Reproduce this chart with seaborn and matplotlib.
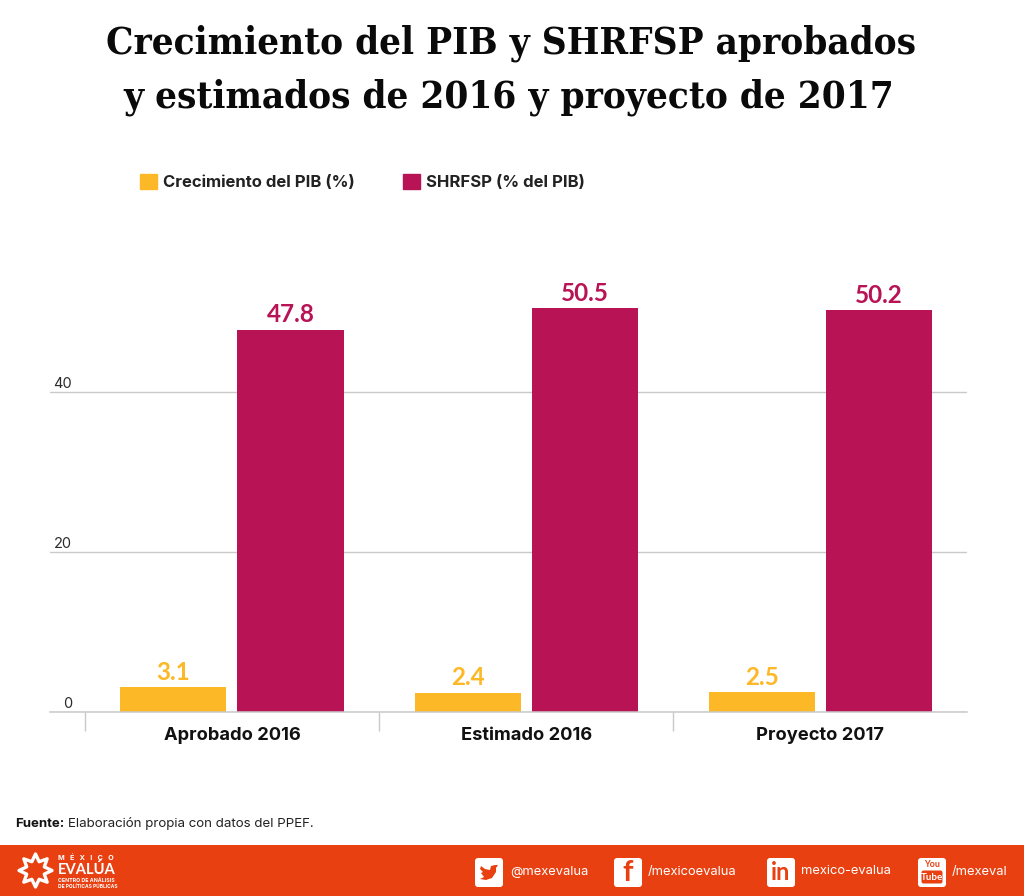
import numpy as np
import pandas as pd
import seaborn as sns
import matplotlib.pyplot as plt
from matplotlib.patches import FancyBboxPatch, Polygon, Rectangle
from matplotlib.ticker import FixedLocator
from matplotlib.transforms import ScaledTranslation

categories = ['Aprobado 2016', 'Estimado 2016', 'Proyecto 2017']
pib = [3.1, 2.4, 2.5]
shrfsp = [47.8, 50.5, 50.2]
series_names = ['Crecimiento del PIB (%)', 'SHRFSP (% del PIB)']
y_ticks = [0, 20, 40]
socials = ['@mexevalua', '/mexicoevalua', 'mexico-evalua', '/mexeval']

YELLOW = '#FDB827'
CRIMSON = '#B81355'
ORANGE = '#E84011'
GRID = '#C9C9C9'

sns.set_theme(style='white')
plt.rcParams['font.family'] = ['Inter', 'DejaVu Sans']

df = pd.DataFrame({
    'cat': categories * 2,
    'serie': [series_names[0]] * 3 + [series_names[1]] * 3,
    'valor': pib + shrfsp,
})

W, H = 1024, 896
fig = plt.figure(figsize=(W / 100, H / 100), dpi=100, facecolor='white')


def px_axes(left, top, right, bottom):
    return fig.add_axes([left / W, 1 - bottom / H, (right - left) / W, (bottom - top) / H])


ax = px_axes(50, 280, 967, 712)
sns.barplot(data=df, x='cat', y='valor', hue='serie', order=categories,
            palette=[YELLOW, CRIMSON], width=0.796, gap=0.094, saturation=1,
            linewidth=0, legend=False, ax=ax)
ax.set_xlim(-0.6185, 2.4985)
ax.set_ylim(0, 54)
ax.set_xlabel('')
ax.set_ylabel('')
sns.despine(ax=ax, left=True, top=True, right=True)
ax.spines['bottom'].set_color(GRID)
ax.spines['bottom'].set_linewidth(1.1)

# grid lines behind bars, labels sit on top of them
ax.set_axisbelow(True)
ax.set_yticks(y_ticks)
ax.yaxis.grid(True, color=GRID, lw=1)
ax.tick_params(axis='y', length=0, pad=-16, labelsize=10.5, labelcolor='#2b2b2b')
offset = ScaledTranslation(0, 1 / 72, fig.dpi_scale_trans)
for lab in ax.get_yticklabels():
    lab.set_ha('right')
    lab.set_va('bottom')
    lab.set_transform(lab.get_transform() + offset)

# category separators hanging from the baseline
ax.xaxis.set_minor_locator(FixedLocator([-0.5, 0.5, 1.5, 2.5]))
ax.tick_params(axis='x', which='minor', bottom=True, length=14, width=1, color=GRID)
ax.tick_params(axis='x', which='major', bottom=False, pad=5, labelsize=13.2, labelcolor='#111111')
for lab in ax.get_xticklabels():
    lab.set_fontweight('bold')

for cont, color in zip(ax.containers, [YELLOW, CRIMSON]):
    ax.bar_label(cont, fmt='%.1f', padding=2.5, color=color, fontsize=17.5, fontweight='bold',
                 family=['Lato', 'DejaVu Sans'])

handles = [Rectangle((0, 0), 1, 1, color=YELLOW), Rectangle((0, 0), 1, 1, color=CRIMSON)]
fig.legend(handles, series_names, loc='center left', bbox_to_anchor=(125 / W, 1 - 182 / H),
           ncol=2, frameon=False, handlelength=1.02, handleheight=1.02, handletextpad=0.36,
           columnspacing=2.9, prop={'weight': 'bold', 'size': 12}, labelcolor='#222222')

title_font = dict(family='DejaVu Serif', stretch='condensed', fontweight='bold', fontsize=27.6,
                  color='#0a0a0a', ha='center', va='center')
fig.text(511 / W, 1 - 43 / H, 'Crecimiento del PIB y SHRFSP aprobados', **title_font)
fig.text(509 / W, 1 - 97 / H, 'y estimados de 2016 y proyecto de 2017', **title_font)

fig.text(15 / W, 1 - 824 / H, 'Fuente:', ha='left', va='center', fontsize=9.5, fontweight='bold', color='#111111')
fig.text(68 / W, 1 - 824 / H, 'Elaboración propia con datos del PPEF.', ha='left', va='center',
         fontsize=9.6, color='#222222')

# footer band in pixel coordinates
foot = fig.add_axes([0, 0, 1, 1], facecolor='none', zorder=5)
foot.set_xlim(0, W)
foot.set_ylim(H, 0)
foot.axis('off')
foot.add_patch(Rectangle((0, 845), W, 51, color=ORANGE, lw=0))

# logo star, eight soft points
angles = np.linspace(0, 2 * np.pi, 16, endpoint=False) - np.pi / 2
radii = np.where(np.arange(16) % 2 == 0, 16.5, 9.5)
star = np.column_stack([35.5 + radii * np.cos(angles), 870.5 + radii * np.sin(angles)])
foot.add_patch(Polygon(star, closed=True, fc='none', ec='white', lw=2.4, joinstyle='round'))
foot.text(58, 857.5, 'M   É   X   I   C   O', color='white', fontsize=5.2, fontweight='bold', va='center')
foot.text(57.5, 870, 'EVALÚA', color='white', fontsize=10.6, fontweight='bold', va='center',
          family=['Lato', 'DejaVu Sans'])
foot.text(58, 880.5, 'CENTRO DE ANÁLISIS', color='white', fontsize=3.8, fontweight='bold', va='center')
foot.text(58, 886, 'DE POLÍTICAS PÚBLICAS', color='white', fontsize=3.5, fontweight='bold', va='center')

icon_x = [475, 614, 767, 918]
text_x = [510, 648, 801, 952]
for ix, tx, name in zip(icon_x, text_x, socials):
    foot.add_patch(FancyBboxPatch((ix + 3, 861), 22, 23, boxstyle='round,pad=3,rounding_size=3',
                                  fc='white', ec='none'))
    foot.text(tx, 871.5, name, color='white', fontsize=9.3, va='center')

# small icon glyphs
bird = [(481, 866), (485, 869), (490, 870), (491, 866), (495, 865), (498, 865), (496, 868),
        (496, 872), (492, 878), (486, 880), (480, 879), (484, 877), (481, 873), (483, 872), (480, 869)]
foot.add_patch(Polygon(bird, closed=True, fc=ORANGE, ec='none'))
foot.text(627.5, 873, 'f', color=ORANGE, fontsize=21, fontweight='bold', ha='center', va='center',
          family=['Lato', 'DejaVu Sans'])
foot.text(780.5, 873, 'in', color=ORANGE, fontsize=17, fontweight='bold', ha='center', va='center',
          family=['Lato', 'DejaVu Sans'])
foot.text(932, 864.5, 'You', color=ORANGE, fontsize=6.5, fontweight='bold', ha='center', va='center',
          family=['Lato', 'DejaVu Sans'])
foot.add_patch(FancyBboxPatch((922, 871), 20, 12, boxstyle='round,pad=0.5,rounding_size=2',
                              fc=ORANGE, ec='none'))
foot.text(932, 877.5, 'Tube', color='white', fontsize=7, fontweight='bold', ha='center', va='center',
          family=['Lato', 'DejaVu Sans'])

fig.savefig('out.png', dpi=100)
